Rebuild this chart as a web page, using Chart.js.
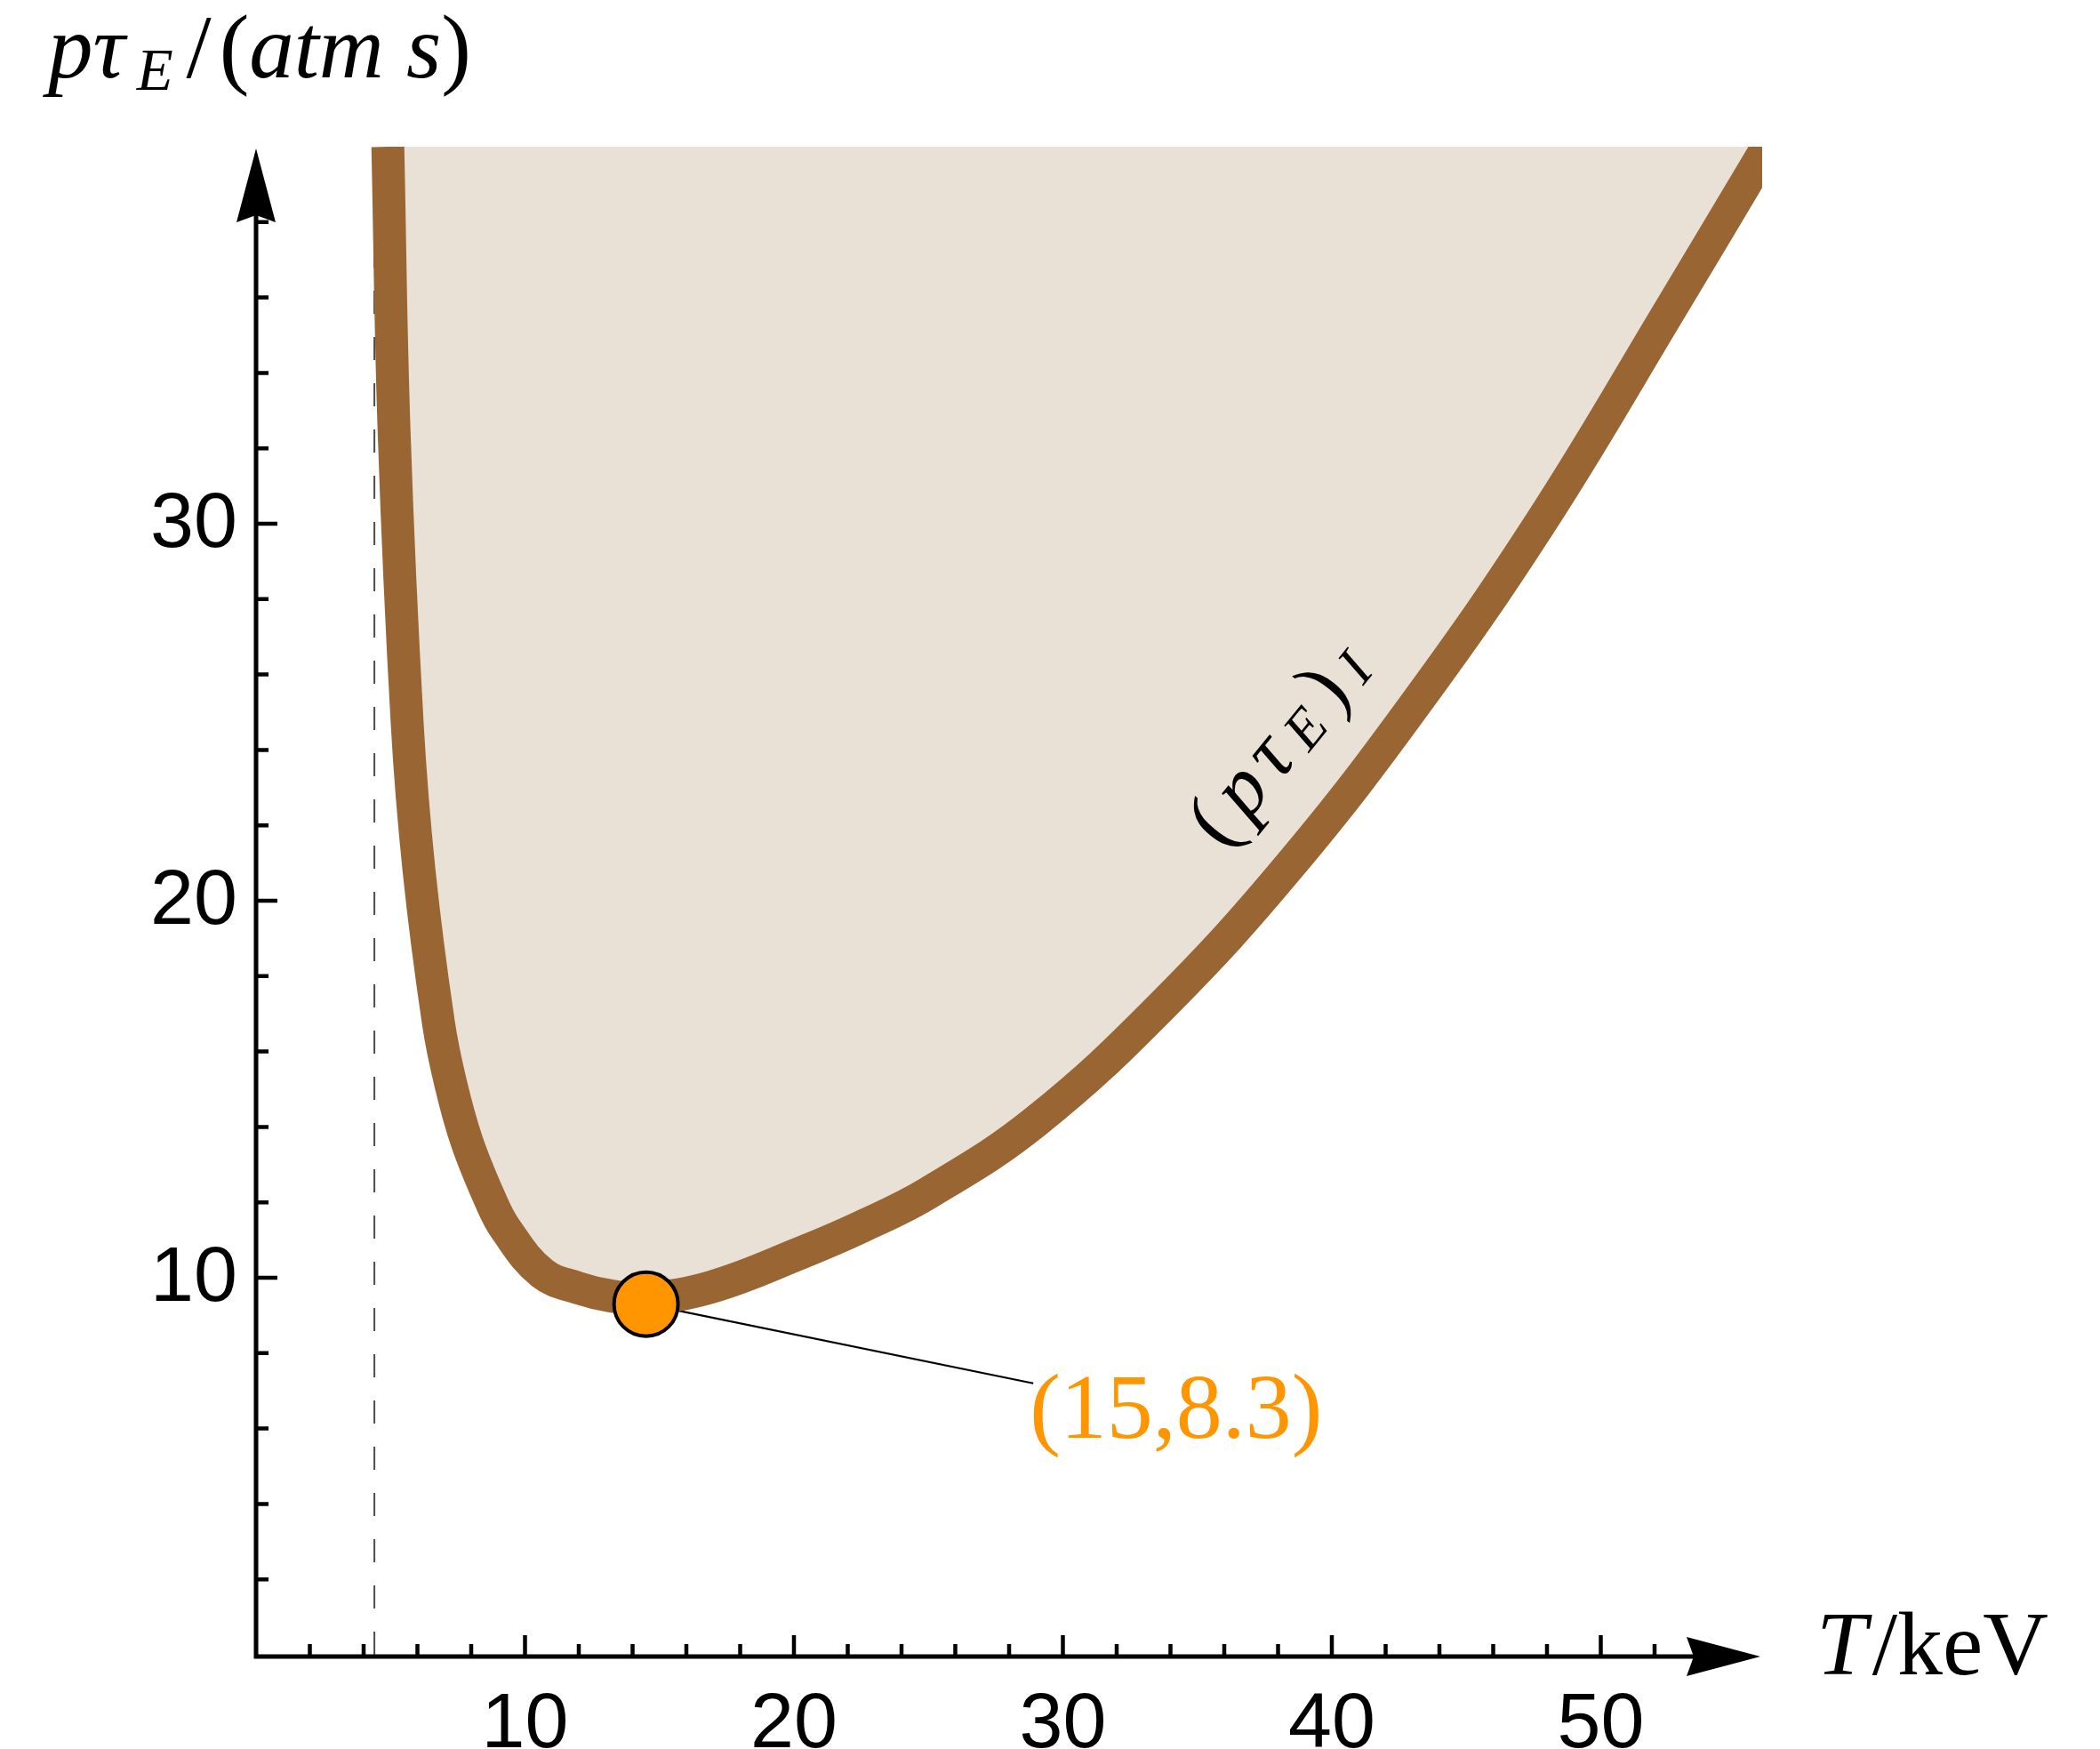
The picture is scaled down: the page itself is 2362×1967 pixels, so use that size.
<!DOCTYPE html>
<html>
<head>
<meta charset="utf-8">
<script src="https://cdn.jsdelivr.net/npm/chart.js@4.4.1/dist/chart.umd.min.js"></script>
<style>
  html, body { margin: 0; padding: 0; background: #fff; }
  canvas { display: block; }
</style>
</head>
<body>
<canvas id="chart" width="2362" height="1967" style="width:2362px;height:1967px"></canvas>
<script>
// ignition curve (p tau_E)_I
const temperature = [4.9, 5.13, 5.62, 6.06, 6.78, 7.22, 7.83, 8.72, 9.3, 10.64, 11.97, 13.18, 14.49, 16.95, 20.26, 22.5, 25.0, 29.0, 33.74, 38.46, 43.18, 47.9, 52.63, 56.2];
const ptau = [40, 32.5, 24.7, 20.8, 16.77, 15.2, 13.63, 12.05, 11.27, 10.12, 9.73, 9.52, 9.45, 9.76, 10.66, 11.35, 12.25, 14.15, 17.25, 20.95, 25.29, 30.18, 35.74, 40];

// dashed threshold line
const thresholdT = [4.4, 4.4];
const thresholdP = [0, 40];

// optimum point
const optimumT = [14.5];
const optimumP = [9.3];
const optimumText = '(15,8.3)';

// axis ticks
const xMajor = [10, 20, 30, 40, 50];
const xMinor = [2, 4, 6, 8, 12, 14, 16, 18, 22, 24, 26, 28, 32, 34, 36, 38, 42, 44, 46, 48, 52, 54];
const yMajor = [10, 20, 30];
const yMinor = [2, 4, 6, 8, 12, 14, 16, 18, 22, 24, 26, 28, 32, 34, 36, 38];

const BROWN = '#996633';
const BEIGE = '#E9E0D6';
const ORANGE = '#FF9500';

const labelAnchor = { x: 28.9, y: 7.2 };   // end of connector, data units
const curveLabelAt = { x: 38.1, y: 24.1 };

const pts = (xs, ys) => xs.map((v, i) => ({ x: v, y: ys[i] }));

function drawRuns(ctx, runs, x, y, align) {
  let total = 0;
  runs.forEach(r => { ctx.font = r[1]; total += ctx.measureText(r[0]).width + (r[3] || 0); });
  let cx = align === 'center' ? x - total / 2 : x;
  runs.forEach(r => {
    ctx.font = r[1];
    ctx.fillText(r[0], cx, y + (r[2] || 0));
    cx += ctx.measureText(r[0]).width + (r[3] || 0);
  });
}

function arrowHead(ctx, tipX, tipY, dirX, dirY) {
  const len = 83, half = 22, notch = 8;
  const nx = -dirY, ny = dirX;
  const bx = tipX - dirX * len, by = tipY - dirY * len;
  ctx.beginPath();
  ctx.moveTo(tipX, tipY);
  ctx.lineTo(bx + nx * half, by + ny * half);
  ctx.lineTo(bx + dirX * notch, by + dirY * notch);
  ctx.lineTo(bx - nx * half, by - ny * half);
  ctx.closePath();
  ctx.fill();
}

const decorations = {
  id: 'decorations',
  beforeDatasetsDraw(chart) {
    const { ctx, scales: { x, y } } = chart;
    ctx.save();
    ctx.strokeStyle = '#000';
    ctx.lineWidth = 2.2;
    ctx.beginPath();
    ctx.moveTo(x.getPixelForValue(optimumT[0]), y.getPixelForValue(optimumP[0]));
    ctx.lineTo(x.getPixelForValue(labelAnchor.x), y.getPixelForValue(labelAnchor.y));
    ctx.stroke();
    ctx.restore();
  },
  afterDraw(chart) {
    const { ctx, chartArea: a, scales: { x, y } } = chart;
    const x0 = x.getPixelForValue(0), y0 = y.getPixelForValue(0) + 2;
    ctx.save();
    ctx.fillStyle = '#000';
    ctx.strokeStyle = '#000';

    // axis lines
    ctx.lineWidth = 5;
    ctx.beginPath();
    ctx.moveTo(x0, y0 + 2.5);
    ctx.lineTo(x0, a.top + 40);
    ctx.moveTo(x0 - 2.5, y0);
    ctx.lineTo(a.right - 40, y0);
    ctx.stroke();
    arrowHead(ctx, x0, a.top + 2, 0, -1);
    arrowHead(ctx, a.right - 2, y0, 1, 0);

    // ticks, pointing into the plot
    ctx.lineWidth = 4.5;
    ctx.beginPath();
    xMinor.forEach(v => { const px = x.getPixelForValue(v); ctx.moveTo(px, y0); ctx.lineTo(px, y0 - 14); });
    xMajor.forEach(v => { const px = x.getPixelForValue(v); ctx.moveTo(px, y0); ctx.lineTo(px, y0 - 24); });
    yMinor.forEach(v => { const py = y.getPixelForValue(v); ctx.moveTo(x0, py); ctx.lineTo(x0 + 14, py); });
    yMajor.forEach(v => { const py = y.getPixelForValue(v); ctx.moveTo(x0, py); ctx.lineTo(x0 + 24, py); });
    ctx.stroke();

    // tick labels
    ctx.font = "88px 'Liberation Sans'";
    ctx.textAlign = 'center';
    ctx.textBaseline = 'alphabetic';
    xMajor.forEach(v => ctx.fillText(String(v), x.getPixelForValue(v), y0 + 102));
    ctx.textAlign = 'right';
    ctx.textBaseline = 'middle';
    yMajor.forEach(v => ctx.fillText(String(v), x0 - 21, y.getPixelForValue(v) + 2));

    // axis titles
    ctx.textAlign = 'left';
    ctx.textBaseline = 'alphabetic';
    const I100 = "italic 101px 'Liberation Serif'", N100 = "101px 'Liberation Serif'";
    drawRuns(ctx, [
      ['p', I100, 0, 0], ['τ', I100, 0, 13], ['E', "italic 67px 'Liberation Serif'", 14, 15],
      ['/', N100, 0, 9], ['(', N100], ['atm s', I100], [')', N100]
    ], 54, 87);
    const I102 = "italic 102px 'Liberation Serif'", N102 = "102px 'Liberation Serif'";
    drawRuns(ctx, [['T', I102, 0, 6], ['/keV', N102]], 2043, 1883);

    // label of the optimum point
    ctx.fillStyle = ORANGE;
    ctx.font = "104px 'Liberation Serif'";
    ctx.fillText(optimumText, x.getPixelForValue(labelAnchor.x) - 4, y.getPixelForValue(labelAnchor.y) + 61);

    // curve label (p tau_E)_I along the curve
    ctx.fillStyle = '#000';
    ctx.translate(x.getPixelForValue(curveLabelAt.x), y.getPixelForValue(curveLabelAt.y));
    ctx.rotate(-51 * Math.PI / 180);
    ctx.textBaseline = 'middle';
    const B = "italic 92px 'Liberation Serif'", N = "92px 'Liberation Serif'", S = "italic 63px 'Liberation Serif'";
    drawRuns(ctx, [
      ['(', N, 0, 12], ['p', B, 0, 10], ['τ', B, 0, 14], ['E', S, 13, 14], [')', N, 0, 14], ['I', S, 13, 0]
    ], 0, 0, 'center');
    ctx.restore();
  }
};

new Chart(document.getElementById('chart').getContext('2d'), {
  type: 'line',
  data: {
    datasets: [
      {
        label: 'optimum',
        data: pts(optimumT, optimumP),
        showLine: false,
        pointRadius: 36,
        pointBorderWidth: 4,
        pointBackgroundColor: ORANGE,
        pointBorderColor: '#000',
        order: 0
      },
      {
        label: '(pτE)I',
        data: pts(temperature, ptau),
        borderColor: BROWN,
        borderWidth: 37,
        borderJoinStyle: 'round',
        backgroundColor: BEIGE,
        fill: 'end',
        pointRadius: 0,
        tension: 0.4,
        clip: 0,
        order: 1
      },
      {
        label: 'threshold',
        data: pts(thresholdT, thresholdP),
        borderColor: 'rgba(0,0,0,0.7)',
        borderWidth: 2,
        borderDash: [26, 26],
        pointRadius: 0,
        fill: false,
        clip: 0,
        order: 2
      }
    ]
  },
  options: {
    responsive: false,
    animation: false,
    devicePixelRatio: 1,
    layout: { padding: { left: 288, right: 380, top: 165, bottom: 106 } },
    scales: {
      x: { type: 'linear', min: 0, max: 56, display: false },
      y: { type: 'linear', min: 0, max: 40, display: false }
    },
    plugins: { legend: { display: false }, tooltip: { enabled: false } }
  },
  plugins: [decorations]
});
</script>
</body>
</html>
